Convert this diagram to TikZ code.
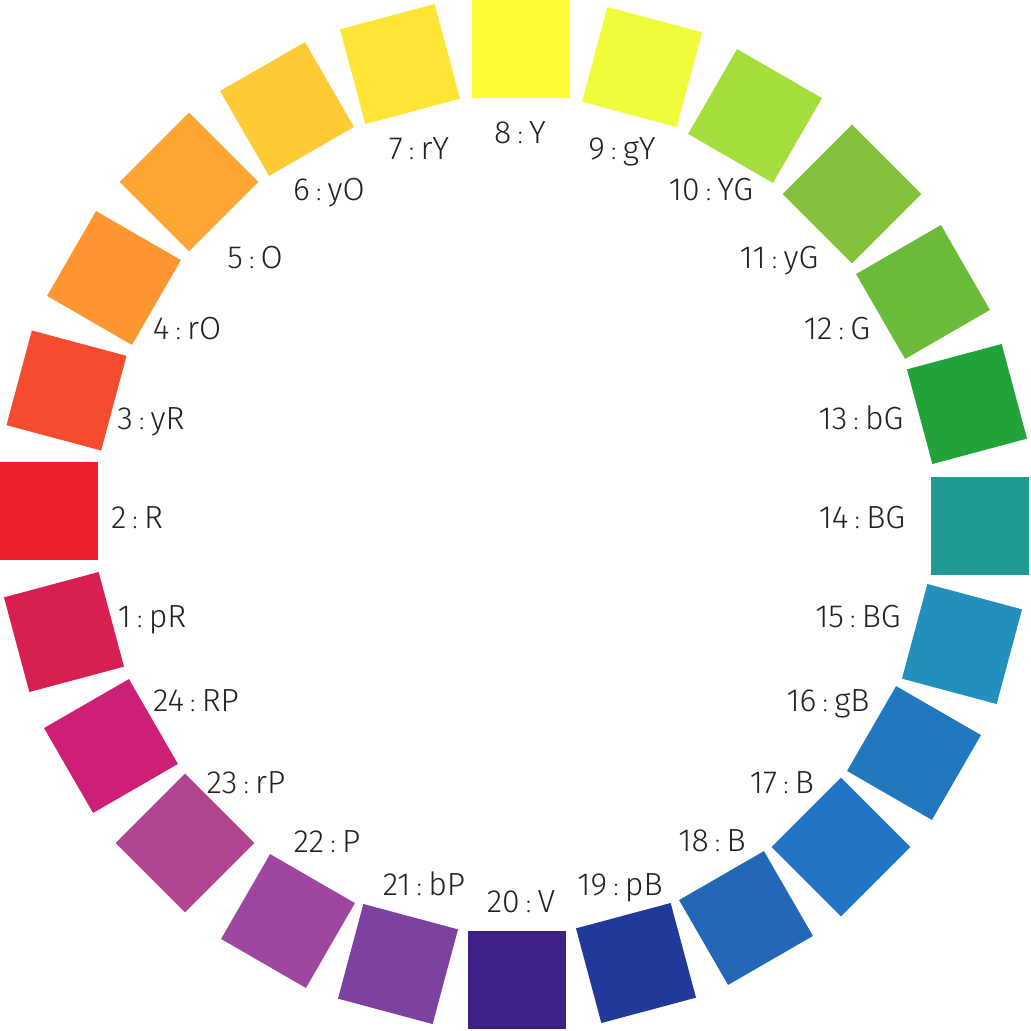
\documentclass[tikz,border=0pt]{standalone}
\usepackage{fontspec}
\setmainfont{Fira Sans}[UprightFont=* Light]
\definecolor{c1}{HTML}{D81F52}
\definecolor{c2}{HTML}{EC2130}
\definecolor{c3}{HTML}{F54B2F}
\definecolor{c4}{HTML}{FD9630}
\definecolor{c5}{HTML}{FEA633}
\definecolor{c6}{HTML}{FFCA34}
\definecolor{c7}{HTML}{FFE634}
\definecolor{c8}{HTML}{FFFD37}
\definecolor{c9}{HTML}{EEFC3A}
\definecolor{c10}{HTML}{A5DE3C}
\definecolor{c11}{HTML}{85C23C}
\definecolor{c12}{HTML}{6BBB3A}
\definecolor{c13}{HTML}{21A33A}
\definecolor{c14}{HTML}{1F9A96}
\definecolor{c15}{HTML}{228FBD}
\definecolor{c16}{HTML}{2278BE}
\definecolor{c17}{HTML}{2275C6}
\definecolor{c18}{HTML}{2268B6}
\definecolor{c19}{HTML}{213A99}
\definecolor{c20}{HTML}{3F1F88}
\definecolor{c21}{HTML}{7D42A0}
\definecolor{c22}{HTML}{9E46A0}
\definecolor{c23}{HTML}{B24592}
\definecolor{c24}{HTML}{CC1F75}
\definecolor{txt}{HTML}{222222}
\tikzset{
  chip/.style={minimum size=98pt, inner sep=0pt, outer sep=0pt, draw=none},
  lbl/.style={anchor=base, inner sep=0pt, text=txt, font=\fontsize{32}{32}\selectfont}
}
\newcommand{\sep}{\hspace{0.2em}{\fontsize{24}{24}\selectfont:}\hspace{0.2em}}
\begin{document}
\begin{tikzpicture}[x=1pt,y=-1pt]
\useasboundingbox[fill=white] (0,0) rectangle (1031,1031);
% squares: number / x / y
\foreach \n/\x/\y in {
  1/64/632, 2/49/511, 3/66.5/390.5, 4/114/278, 5/189/182, 6/287/109,
  7/400/64, 8/520.5/49, 9/642/67, 10/755/116, 11/852/194, 12/923/292,
  13/967/404, 14/980/526, 15/962/644, 16/914/753, 17/841/847, 18/746/918,
  19/636/963, 20/517/980, 21/398/964, 22/288/921, 23/185/843, 24/111/746}{
  \pgfmathsetmacro{\rot}{90-(\n-8)*15}
  \node[chip, fill=c\n, rotate=\rot] (sq\n) at (\x,\y) {};
}
% labels: number / text / x / baseline y
\foreach \n/\t/\x/\y in {
  1/pR/152/627, 2/R/137/528, 3/yR/151/429, 4/rO/187/339, 5/O/255/268,
  6/yO/329/200, 7/rY/419/159, 8/Y/520/143, 9/gY/622/159, 10/YG/711/200,
  11/yG/779/268, 12/G/837/339, 13/bG/861/429, 14/BG/862/528, 15/BG/858/627,
  16/gB/828/711, 17/B/782/793, 18/B/712/851, 19/pB/620/895, 20/V/521/912,
  21/bP/424/895, 22/P/327/852, 23/rP/246/793, 24/RP/196/711}{
  \node[lbl] (l\n) at (\x,\y) {\n\sep\t};
}
\end{tikzpicture}
\end{document}
